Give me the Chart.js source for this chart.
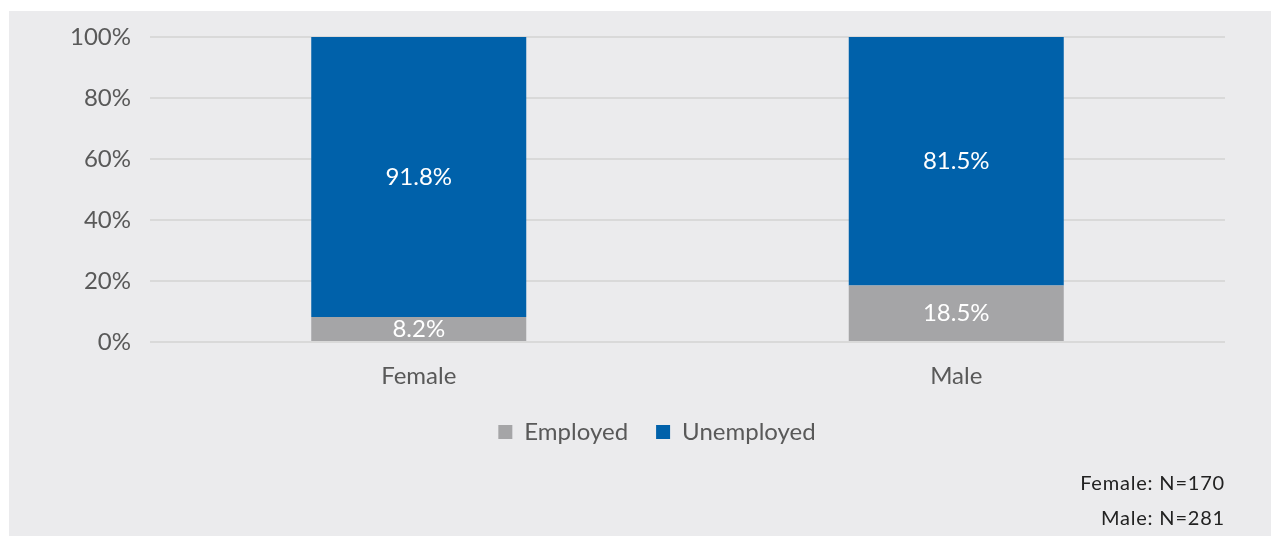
<!DOCTYPE html>
<html>
<head>
<meta charset="utf-8">
<script src="https://cdn.jsdelivr.net/npm/chart.js@4.4.1/dist/chart.umd.min.js"></script>
<style>
  html, body { margin: 0; padding: 0; background: #fff; }
  body { width: 1271px; height: 536px; position: relative; overflow: hidden; font-family: Lato, "Open Sans", sans-serif; }
  #panel { position: absolute; left: 9px; top: 11px; width: 1262px; height: 525px; background: #ebebed; }
  #chart { position: absolute; left: 0; top: 0; }
  .note { position: absolute; right: 46px; font-size: 20px; color: #222; letter-spacing: 0.8px; }
</style>
</head>
<body>
<div id="panel">
  <canvas id="chart" width="1262" height="525"></canvas>
  <div class="note" style="top:459px">Female: N=170</div>
  <div class="note" style="top:494px">Male: N=281</div>
</div>
<script>
// Données
const categories = ["Female", "Male"];
const employed = [8.2, 18.5];
const unemployed = [91.8, 81.5];
const yTicks = [0, 20, 40, 60, 80, 100];

const GREY_TEXT = "#595959";
const FONT = "Lato, 'Open Sans', sans-serif";

// Étiquettes de valeur au centre de chaque segment
const valueLabels = {
  id: "valueLabels",
  afterDatasetsDraw(chart) {
    const ctx = chart.ctx;
    ctx.save();
    ctx.fillStyle = "#fff";
    ctx.font = "24px " + FONT;
    ctx.textAlign = "center";
    ctx.textBaseline = "middle";
    chart.data.datasets.forEach((ds, i) => {
      chart.getDatasetMeta(i).data.forEach((bar, j) => {
        const y = (bar.y + bar.base) / 2;
        ctx.fillText(ds.data[j].toFixed(1) + "%", bar.x, y);
      });
    });
    ctx.restore();
  }
};

// Légende décalée vers la droite, centrée sous la zone du graphique
const legendShift = {
  id: "legendShift",
  afterLayout(chart) {
    chart.legend.left += 40;
    chart.legend.right += 40;
  }
};

new Chart(document.getElementById("chart"), {
  type: "bar",
  data: {
    labels: categories,
    datasets: [
      { label: "Employed", data: employed, backgroundColor: "#a5a5a7", barPercentage: 0.4, categoryPercentage: 1 },
      { label: "Unemployed", data: unemployed, backgroundColor: "#0061aa", barPercentage: 0.4, categoryPercentage: 1 }
    ]
  },
  options: {
    responsive: false,
    animation: false,
    layout: { padding: { top: 26, right: 46, bottom: 82, left: 0 } },
    scales: {
      x: {
        stacked: true,
        grid: { display: false },
        border: { display: false },
        ticks: { color: GREY_TEXT, font: { family: FONT, size: 24 }, padding: 12 },
        afterFit: (s) => { s.height = 50; }
      },
      y: {
        stacked: true,
        min: 0,
        max: 100,
        afterBuildTicks: (s) => { s.ticks = yTicks.map(v => ({ value: v })); },
        grid: { color: "#d9d9d9", lineWidth: 2, drawTicks: false },
        border: { display: false },
        ticks: { color: GREY_TEXT, font: { family: FONT, size: 24 }, padding: 19, callback: v => v + "%" },
        afterFit: (s) => { s.width = 141; s.paddingTop = 0; s.paddingBottom = 0; }
      }
    },
    plugins: {
      legend: {
        position: "bottom",
        labels: { color: GREY_TEXT, font: { family: FONT, size: 24 }, boxWidth: 14, boxHeight: 14, padding: 28 }
      },
      tooltip: { enabled: false }
    }
  },
  plugins: [valueLabels, legendShift]
});
</script>
</body>
</html>
